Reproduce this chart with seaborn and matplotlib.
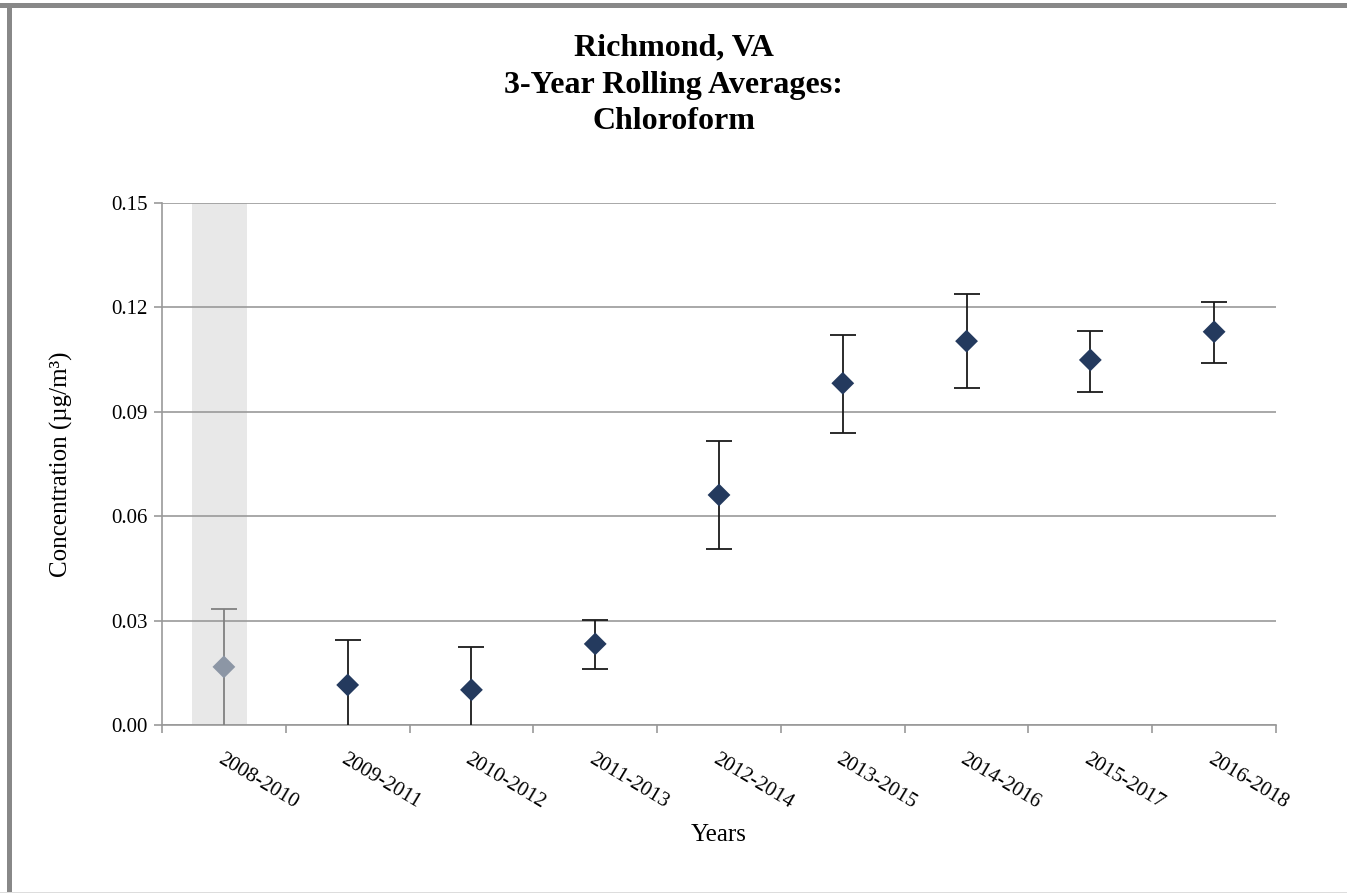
import numpy as np
import pandas as pd
import matplotlib
matplotlib.use('Agg')
import matplotlib.pyplot as plt
import seaborn as sns
from matplotlib.patches import Rectangle

# Dados
periodos = ['2008-2010', '2009-2011', '2010-2012', '2011-2013', '2012-2014',
            '2013-2015', '2014-2016', '2015-2017', '2016-2018']
media = [0.0167, 0.0115, 0.0101, 0.0233, 0.0661, 0.0982, 0.1103, 0.1049, 0.1130]
limite_sup = [0.0334, 0.0245, 0.0224, 0.0302, 0.0816, 0.1121, 0.1238, 0.1132, 0.1216]
limite_inf = [0.0000, 0.0000, 0.0000, 0.0161, 0.0506, 0.0839, 0.0969, 0.0958, 0.1040]
destaque = [True, False, False, False, False, False, False, False, False]

df = pd.DataFrame({'Periodo': periodos, 'Media': media,
                   'Sup': limite_sup, 'Inf': limite_inf, 'Destaque': destaque})
df['pos'] = np.arange(len(df))

sns.set_theme(style='white')
plt.rcParams['font.family'] = ['Liberation Serif', 'DejaVu Serif']
plt.rcParams['text.color'] = 'black'
plt.rcParams['axes.labelcolor'] = 'black'
plt.rcParams['xtick.color'] = 'black'
plt.rcParams['ytick.color'] = 'black'

fig = plt.figure(figsize=(13.47, 8.93), dpi=100)
ax = fig.add_axes([162 / 1347, 1 - 725 / 893, (1276 - 162) / 1347, (725 - 203) / 893])

# faixa cinza do primeiro período
ax.axvspan(-0.26, 0.19, color='#e8e8e8', zorder=0, lw=0)

# barras de erro (sem traço inferior quando o limite é zero)
for _, row in df.iterrows():
    cor = '#808080' if row['Destaque'] else '#1a1a1a'
    inf = row['Media'] - row['Inf']
    sup = row['Sup'] - row['Media']
    eb = ax.errorbar(row['pos'], row['Media'], yerr=[[inf], [sup]], fmt='none', ecolor=cor,
                     elinewidth=1.3, capsize=9.5, capthick=1.3, zorder=3)
    if row['Inf'] <= 0:
        eb[1][0].set_visible(False)

sns.scatterplot(data=df, x='pos', y='Media', hue='Destaque',
                palette={True: '#8c96a5', False: '#243a5e'},
                marker='D', s=135, edgecolor='none', legend=False, ax=ax, zorder=4)

ax.set_xlim(-0.5, len(df) - 0.5)
ax.set_ylim(0, 0.15)
ax.set_yticks([0, 0.03, 0.06, 0.09, 0.12, 0.15])
ax.set_yticklabels(['0.00', '0.03', '0.06', '0.09', '0.12', '0.15'], fontsize=15)
ax.yaxis.grid(True, color='#999999', lw=1.2)
ax.set_axisbelow(True)

# rótulos no centro, marcas nos limites das categorias
ax.set_xticks(df['pos'])
ax.set_xticklabels(df['Periodo'], rotation=-31, ha='left', va='top',
                   rotation_mode='anchor', fontsize=15)
ax.set_xticks(np.arange(len(df) + 1) - 0.5, minor=True)
ax.tick_params(axis='x', which='major', bottom=True, length=0, pad=18)
ax.tick_params(axis='x', which='minor', bottom=True, length=6, color='#999999',
               width=1.2, direction='out')
ax.tick_params(axis='y', left=True, length=6, color='#999999', width=1.2,
               direction='out', pad=4)

for lado in ['top', 'right']:
    ax.spines[lado].set_visible(False)
for lado in ['left', 'bottom']:
    ax.spines[lado].set_color('#999999')
    ax.spines[lado].set_linewidth(1.2)

ax.set_xlabel('Years', fontsize=18)
ax.set_ylabel('Concentration (µg/m³)', fontsize=18)
ax.xaxis.set_label_coords(0.5, -0.19)
ax.yaxis.set_label_coords(-0.08, 0.5)

fig.text(0.5, 1 - 85 / 893, 'Richmond, VA\n3-Year Rolling Averages:\nChloroform',
         ha='center', va='center', fontsize=23, fontweight='bold', linespacing=1.36)

# moldura cinza
fig.patches.append(Rectangle((0, 1 - 8 / 893), 1, 5 / 893, transform=fig.transFigure,
                             color='#888888', lw=0))
fig.patches.append(Rectangle((7 / 1347, 0), 5 / 1347, 1 - 3 / 893, transform=fig.transFigure,
                             color='#888888', lw=0))
fig.patches.append(Rectangle((0, 0), 1, 1.5 / 893, transform=fig.transFigure,
                             color='#dddddd', lw=0))

fig.savefig('out.png', dpi=100)
